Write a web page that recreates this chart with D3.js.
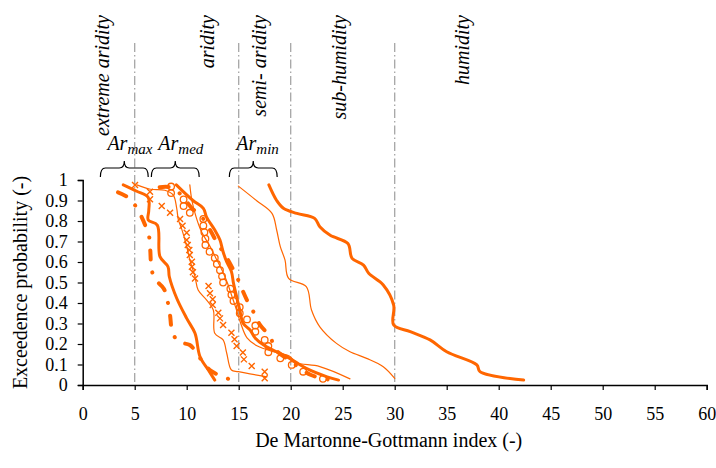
<!DOCTYPE html>
<html>
<head>
<meta charset="utf-8">
<script src="https://cdn.jsdelivr.net/npm/d3@7/dist/d3.min.js"></script>
<style>
  body { margin: 0; background: #fff; }
  text { font-family: "Liberation Serif", "Times New Roman", serif; fill: #000; }
</style>
</head>
<body>
<div id="chart"></div>
<script>
//x ticks and zone boundaries
var xTicks = [0, 5, 10, 15, 20, 25, 30, 35, 40, 45, 50, 55, 60];
var yTicks = [0, 0.1, 0.2, 0.3, 0.4, 0.5, 0.6, 0.7, 0.8, 0.9, 1];
var zoneLines = [5, 15, 20, 30];
var zoneLabels = [
  {label: "extreme aridity", x: 2.55},
  {label: "aridity", x: 12.6},
  {label: "semi- aridity", x: 17.6},
  {label: "sub-humidity", x: 25.3},
  {label: "humidity", x: 37.1}
];
var braces = [
  {sub: "max", from: 1.7, to: 6.3},
  {sub: "med", from: 6.6, to: 11.2},
  {sub: "min", from: 14.1, to: 18.7}
];

//series: [index, exceedence probability]
var seriesA = [[3.4,0.94],[4.5,0.91],[5.35,0.85],[6.0,0.78],[6.4,0.72],[6.5,0.655],[6.6,0.576],[6.9,0.52],[7.8,0.47],[8.2,0.40],[8.4,0.34],[8.6,0.265],[9.2,0.21],[10.3,0.195],[11.3,0.13],[12.3,0.07],[14.0,0.03]];
var seriesB = [[3.9,0.976],[5.2,0.945],[6.3,0.915],[6.35,0.85],[6.3,0.805],[7.17,0.78],[7.43,0.626],[8.2,0.577],[8.33,0.528],[9.04,0.423],[10.0,0.325],[10.8,0.252],[11.28,0.138],[12.08,0.073],[12.7,0.024]];
var seriesC = [[5.2,0.976],[6.5,0.955],[7.9,0.95],[8.7,0.927],[9.04,0.862],[9.2,0.805],[9.5,0.764],[10.0,0.675],[10.3,0.61],[10.8,0.528],[11.1,0.463],[11.9,0.415],[12.56,0.366],[12.7,0.252],[13.5,0.22],[13.85,0.155],[14.3,0.073],[14.96,0.065],[17.7,0.04]];
var seriesD = [[5.03,0.976],[6.47,0.943],[6.47,0.906],[7.6,0.873],[8.4,0.84],[9.36,0.81],[9.6,0.777],[10.0,0.743],[10.0,0.707],[10.1,0.683],[10.25,0.659],[10.3,0.634],[10.5,0.601],[10.5,0.577],[10.6,0.55],[10.8,0.52],[12.1,0.483],[12.24,0.447],[12.5,0.418],[12.5,0.39],[13.04,0.353],[13.2,0.325],[13.5,0.293],[14.3,0.255],[14.6,0.223],[14.8,0.19],[15.4,0.158],[15.5,0.125],[16.25,0.093],[17.5,0.065],[17.5,0.033]];
var seriesE = [[8.5,0.968],[8.5,0.936],[9.7,0.905],[9.7,0.873],[10.3,0.84],[11.6,0.81],[11.6,0.777],[11.7,0.745],[11.8,0.714],[11.8,0.683],[12.2,0.65],[12.7,0.62],[12.9,0.59],[13.2,0.56],[13.4,0.53],[13.5,0.5],[14.2,0.47],[14.3,0.44],[14.5,0.41],[15.1,0.38],[15.1,0.35],[15.8,0.32],[16.6,0.29],[16.6,0.26],[17.5,0.22],[17.85,0.19],[17.85,0.16],[19.0,0.13],[20.1,0.098],[21.2,0.065],[23.1,0.03]];
var seriesF = [[9.0,0.976],[10.6,0.9],[11.6,0.862],[11.9,0.82],[12.7,0.756],[13.2,0.707],[13.5,0.65],[13.85,0.6],[14.3,0.553],[14.5,0.496],[14.8,0.431],[15.1,0.366],[15.44,0.3],[16.1,0.268],[16.6,0.228],[17.4,0.195],[18.65,0.162],[19.9,0.13],[21.5,0.081],[23.5,0.04],[24.6,0.024]];
var seriesG = [[7.4,0.965],[8.6,0.963],[9.6,0.92],[10.5,0.862],[11.3,0.83],[12.2,0.76],[13.04,0.683],[13.5,0.65],[14.3,0.58],[14.96,0.512],[15.3,0.47],[15.9,0.403],[16.6,0.34],[17.05,0.293],[18.0,0.236],[18.6,0.17],[19.9,0.12],[21.9,0.05],[23.8,0.025]];
var seriesH = [[10.3,0.976],[10.5,0.9],[10.9,0.82],[11.4,0.75],[12.2,0.68],[12.8,0.62],[13.4,0.56],[13.9,0.5],[14.3,0.44],[14.7,0.38],[15.2,0.3],[15.8,0.23],[16.8,0.19],[18.5,0.16],[19.9,0.14],[20.5,0.11],[22.8,0.09],[25.7,0.03]];
var seriesI = [[14.97,0.97],[16.7,0.9],[18.2,0.837],[18.65,0.756],[19.0,0.675],[19.45,0.61],[19.8,0.52],[21.5,0.48],[22.0,0.366],[22.8,0.284],[24.4,0.203],[25.7,0.162],[27.3,0.13],[28.9,0.089],[30.0,0.032]];
var seriesJ = [[17.9,0.976],[18.65,0.9],[19.3,0.862],[20.6,0.837],[22.3,0.813],[22.8,0.772],[23.8,0.73],[25.5,0.69],[25.9,0.618],[27.0,0.585],[27.5,0.545],[28.9,0.488],[29.9,0.39],[29.9,0.293],[31.5,0.26],[33.4,0.22],[35.0,0.162],[37.9,0.098],[38.2,0.065],[42.4,0.024]];

var orange = "#ff6600";
var W = 716, H = 468;
var margin = {left: 82.7, right: 9.3, top: 180, bottom: 83};

var svg = d3.select("#chart").append("svg")
  .attr("width", W)
  .attr("height", H);

var x = d3.scaleLinear().domain([0, 60]).range([margin.left, W - margin.right]);
var y = d3.scaleLinear().domain([0, 1]).range([H - margin.bottom, margin.top]);

//zone boundaries (dash-dot grey)
svg.append("g").selectAll("line")
  .data(zoneLines)
  .enter()
  .append("line")
  .attr("x1", function(d) { return x(d); })
  .attr("x2", function(d) { return x(d); })
  .attr("y1", 43)
  .attr("y2", y(0))
  .attr("stroke", "#a6a6a6")
  .attr("stroke-width", 1.3)
  .attr("stroke-dasharray", "9,3,1.5,3");

//zone labels, rotated
svg.append("g").selectAll("text")
  .data(zoneLabels)
  .enter()
  .append("text")
  .attr("transform", function(d) { return "translate(" + x(d.x) + ",15) rotate(-90)"; })
  .attr("text-anchor", "end")
  .attr("font-style", "italic")
  .attr("font-size", 20)
  .text(function(d) { return d.label; });

//braces with Ar labels
var braceG = svg.append("g");
braces.forEach(function(b) {
  var x1 = x(b.from), x2 = x(b.to), xm = (x1 + x2) / 2;
  var yTip = 161, yMid = 168, yEnd = 177, r = 5;
  braceG.append("path")
    .attr("d", "M" + x1 + "," + yEnd +
      " Q" + x1 + "," + yMid + " " + (x1 + r) + "," + yMid +
      " L" + (xm - r) + "," + yMid +
      " Q" + xm + "," + yMid + " " + xm + "," + yTip +
      " Q" + xm + "," + yMid + " " + (xm + r) + "," + yMid +
      " L" + (x2 - r) + "," + yMid +
      " Q" + x2 + "," + yMid + " " + x2 + "," + yEnd)
    .attr("fill", "none")
    .attr("stroke", "#000")
    .attr("stroke-width", 1.2);
  var t = braceG.append("text")
    .attr("x", x1 + 7)
    .attr("y", 150)
    .attr("font-style", "italic")
    .attr("font-size", 20);
  t.append("tspan").text("Ar");
  t.append("tspan").attr("dy", 4).attr("font-size", 15).text(b.sub);
});

//axes
var xAxis = svg.append("g")
  .attr("transform", "translate(0," + y(0) + ")")
  .call(d3.axisBottom(x).tickValues(xTicks).tickSize(5).tickPadding(17).tickFormat(d3.format("d")));
var yAxis = svg.append("g")
  .attr("transform", "translate(" + x(0) + ",0)")
  .call(d3.axisLeft(y).tickValues(yTicks).tickSize(5).tickPadding(10).tickFormat(function(d) { return d === 0 || d === 1 ? d3.format("d")(d) : d3.format(".1f")(d); }));

[xAxis, yAxis].forEach(function(a) {
  a.select(".domain").attr("stroke", "#000").attr("stroke-width", 1.5);
  a.selectAll(".tick line").attr("stroke", "#000").attr("stroke-width", 1.2);
  a.selectAll("text").attr("font-size", 18).attr("font-family", "Liberation Serif, serif").attr("fill", "#000");
});

svg.append("text")
  .attr("x", x(30) - 6)
  .attr("y", 447)
  .attr("text-anchor", "middle")
  .attr("font-size", 20)
  .text("De Martonne-Gottmann index (-)");

svg.append("text")
  .attr("transform", "translate(27," + y(0.5) + ") rotate(-90)")
  .attr("text-anchor", "middle")
  .attr("font-size", 20)
  .text("Exceedence probability (-)");

//lines
var line = d3.line()
  .x(function(d) { return x(d[0]); })
  .y(function(d) { return y(d[1]); })
  .curve(d3.curveCatmullRom.alpha(0.5));

var lineSeries = [
  {data: seriesA, width: 4, dash: "9,13,0.1,13"},
  {data: seriesB, width: 3},
  {data: seriesC, width: 1.2},
  {data: seriesF, width: 3},
  {data: seriesG, width: 4, dash: "9,13,0.1,13"},
  {data: seriesH, width: 1.2},
  {data: seriesI, width: 1.2},
  {data: seriesJ, width: 3}
];

svg.append("g").selectAll("path")
  .data(lineSeries)
  .enter()
  .append("path")
  .attr("d", function(d) { return line(d.data); })
  .attr("fill", "none")
  .attr("stroke", orange)
  .attr("stroke-width", function(d) { return d.width; })
  .attr("stroke-linecap", "round")
  .attr("stroke-linejoin", "round")
  .attr("stroke-dasharray", function(d) { return d.dash || null; });

//cross markers
svg.append("g").selectAll("path")
  .data(seriesD)
  .enter()
  .append("path")
  .attr("transform", function(d) { return "translate(" + x(d[0]) + "," + y(d[1]) + ")"; })
  .attr("d", "M-3,-3L3,3M-3,3L3,-3")
  .attr("stroke", orange)
  .attr("stroke-width", 1.4)
  .attr("fill", "none");

//circle markers
svg.append("g").selectAll("circle")
  .data(seriesE)
  .enter()
  .append("circle")
  .attr("cx", function(d) { return x(d[0]); })
  .attr("cy", function(d) { return y(d[1]); })
  .attr("r", 3.3)
  .attr("fill", "none")
  .attr("stroke", orange)
  .attr("stroke-width", 1.3);
</script>
</body>
</html>
